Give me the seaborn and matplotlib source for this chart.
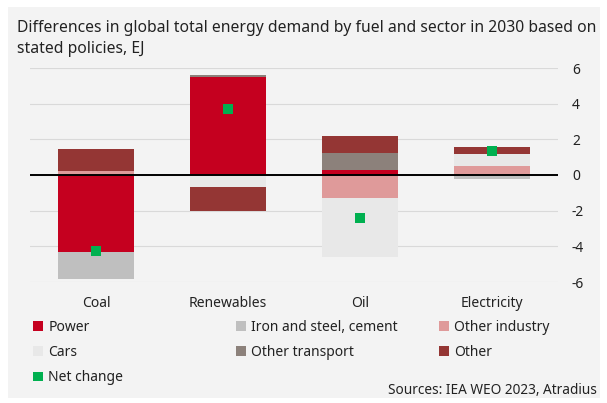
import pandas as pd
import matplotlib.pyplot as plt
import seaborn as sns
from matplotlib.patches import Patch, Rectangle

# Data (EJ)
fuels = ['Coal', 'Renewables', 'Oil', 'Electricity']
sectors = ['Power', 'Iron and steel, cement', 'Other industry', 'Cars', 'Other transport', 'Other']
power = [-4.3, 5.48, 0.29, 0.0]
iron_steel = [-1.52, 0.0, 0.0, -0.25]
other_industry = [0.21, 0.0, -1.28, 0.5]
cars = [0.0, -0.68, -3.34, 0.65]
other_transport = [0.0, 0.12, 0.94, 0.0]
other = [1.26, -1.32, 0.94, 0.41]
net_change = [-4.28, 3.7, -2.43, 1.36]
yticks = [-6, -4, -2, 0, 2, 4, 6]

sector_values = [power, iron_steel, other_industry, cars, other_transport, other]
colors = ['#c5001f', '#bfbfbf', '#df9a9a', '#e8e8e8', '#8c817b', '#943634']
net_color = '#00b050'

# long table with stacked bottoms (positives up, negatives down)
rows = []
pos_base = [0.0] * len(fuels)
neg_base = [0.0] * len(fuels)
for sector, vals in zip(sectors, sector_values):
    for i, (fuel, v) in enumerate(zip(fuels, vals)):
        if v >= 0:
            base = pos_base[i]
            pos_base[i] += v
        else:
            base = neg_base[i]
            neg_base[i] += v
        rows.append({'fuel': fuel, 'sector': sector, 'value': v, 'base': base})
df = pd.DataFrame(rows)

plt.rcParams['font.family'] = ['Noto Sans', 'DejaVu Sans']
plt.rcParams['axes.unicode_minus'] = False

fig = plt.figure(figsize=(6.07, 4.03), dpi=100, facecolor='white')
fig.patches.append(Rectangle((8 / 607, 5 / 403), 592 / 607, 391 / 403,
                             transform=fig.transFigure, facecolor='#f3f3f3',
                             edgecolor='none', zorder=-5))
ax = fig.add_axes([30 / 607, 1 - 282 / 403, 528 / 607, 214 / 403])
ax.set_facecolor('none')

for sector, color in zip(sectors, colors):
    sub = df[df['sector'] == sector]
    sns.barplot(x=sub['fuel'], y=sub['value'], bottom=sub['base'].values,
                order=fuels, color=color, saturation=1, width=0.57,
                errorbar=None, linewidth=0, zorder=3, ax=ax)

sns.pointplot(x=fuels, y=net_change, order=fuels, color=net_color,
              markers='s', linestyles='none', markersize=7.5,
              markeredgewidth=0, errorbar=None, zorder=6, ax=ax)

ax.axhline(0, color='black', lw=1.4, zorder=5)
ax.set_ylim(-6, 6)
ax.set_xlim(-0.5, 3.5)
ax.set_yticks(yticks)
ax.grid(axis='y', color='#d9d9d9', lw=0.8)
ax.set_axisbelow(True)
ax.yaxis.tick_right()
ax.tick_params(axis='y', length=0, pad=10, labelsize=10, colors='#222222')
ax.tick_params(axis='x', length=0, pad=10, labelsize=10, colors='#222222')
ax.set_xlabel('')
ax.set_ylabel('')
for s in ax.spines.values():
    s.set_visible(False)

fig.text(17 / 607, 1 - 28 / 403,
         'Differences in global total energy demand by fuel and sector in 2030 based on',
         fontsize=11.3, va='center', color='#222222')
fig.text(17 / 607, 1 - 49 / 403, 'stated policies, EJ',
         fontsize=11.3, va='center', color='#222222')

# legend laid out in three columns like the original
handles = {name: Patch(facecolor=c, edgecolor='none') for name, c in zip(sectors, colors)}
handles['Net change'] = Patch(facecolor=net_color, edgecolor='none')
columns = [(['Power', 'Cars', 'Net change'], 33),
           (['Iron and steel, cement', 'Other transport'], 236),
           (['Other industry', 'Other'], 439)]
for labels, x0 in columns:
    fig.legend([handles[l] for l in labels], labels, loc='upper left',
               bbox_to_anchor=(x0 / 607, 1 - 320 / 403), frameon=False,
               fontsize=10, handlelength=0.7, handleheight=0.7,
               handletextpad=0.4, labelspacing=0.73, borderpad=0,
               borderaxespad=0, labelcolor='#222222')

fig.text(597 / 607, 1 - 391 / 403, 'Sources: IEA WEO 2023, Atradius',
         fontsize=9.8, ha='right', va='center', color='#222222')

fig.savefig('out.png', dpi=100, facecolor='white')
